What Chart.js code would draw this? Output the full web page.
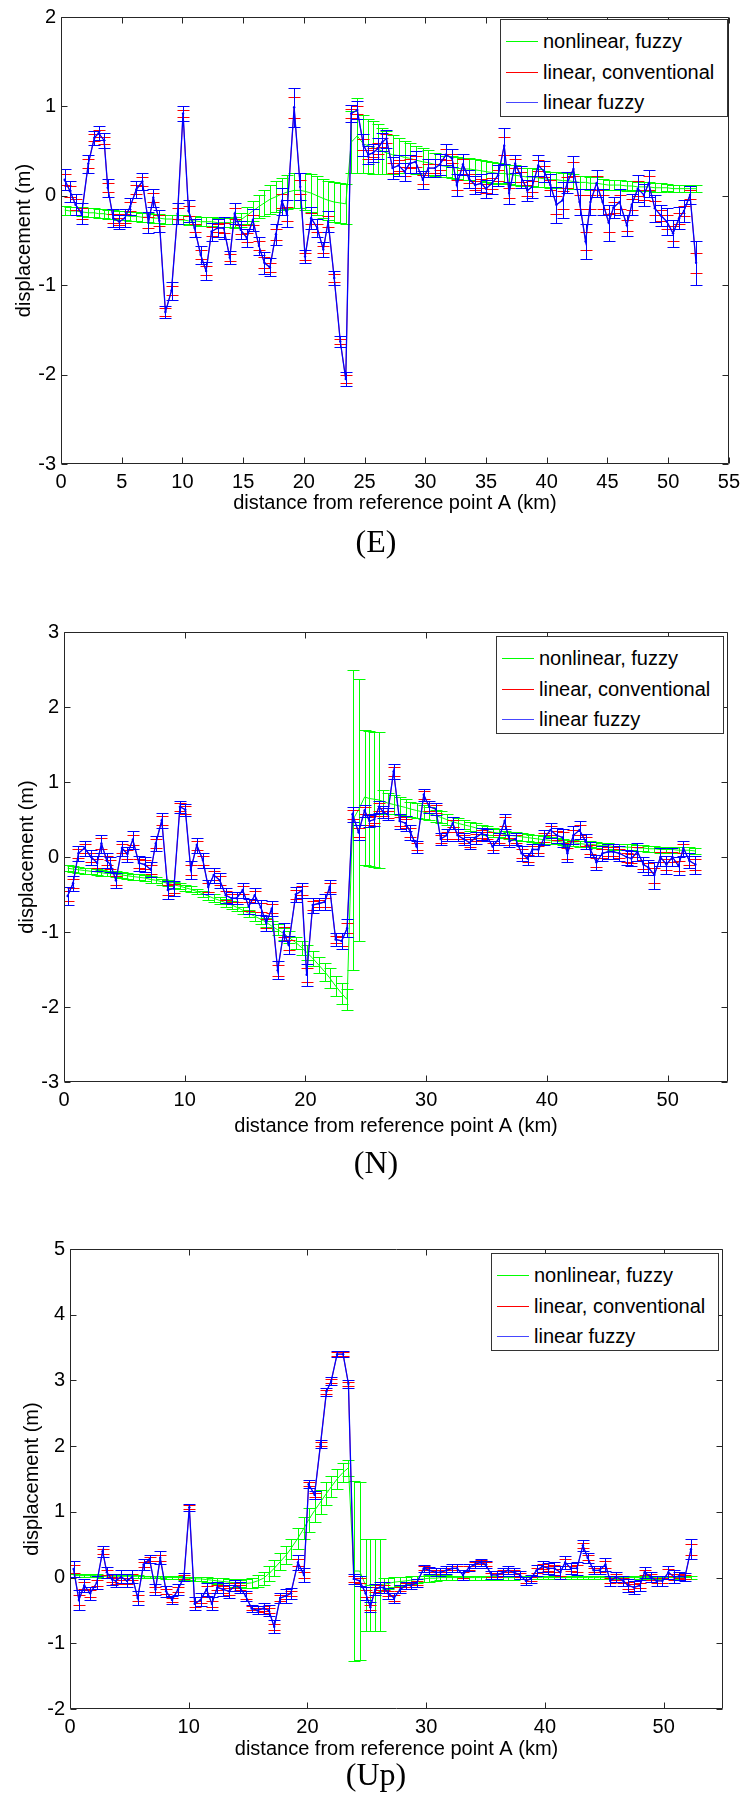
<!DOCTYPE html>
<html>
<head>
<meta charset="utf-8">
<script src="https://cdn.jsdelivr.net/npm/chart.js@4.4.0/dist/chart.umd.min.js"></script>
<style>
  body { margin: 0; background: #fff; }
  #page { position: relative; width: 746px; height: 1794px; overflow: hidden; background: #fff; }
  canvas { position: absolute; left: 0; }
  .legend { position: absolute; width: 226px; height: 96px; border: 1px solid #333; background: #fff;
            font: 20px "Liberation Sans", Arial, sans-serif; color: #000; }
  .legend .row { position: absolute; left: 42px; height: 24px; line-height: 24px; white-space: nowrap; }
  .legend .row i { position: absolute; left: -37px; top: 12px; width: 32px; height: 1px; }
  .caption { position: absolute; width: 200px; left: 276px; height: 40px; line-height: 40px; text-align: center;
             font: 32px "Liberation Serif", "DejaVu Serif", serif; color: #000; }
</style>
</head>
<body>
<div id="page"></div>
<script>
// distance of each station from reference point A (km), shared by all three panels
const distKm = [
  0.3, 0.75, 1.2, 1.7, 2.25, 2.75, 3.1, 3.55, 3.85, 4.3,
  4.8, 5.25, 5.7, 6.2, 6.7, 7.2, 7.6, 8.1, 8.6, 9.1,
  9.6, 10.05, 10.5, 11.0, 11.5, 11.95, 12.4, 12.9, 13.4, 13.9,
  14.3, 14.8, 15.3, 15.8, 16.3, 16.75, 17.2, 17.7, 18.2, 18.6,
  19.2, 19.7, 20.1, 20.6, 21.1, 21.6, 22.0, 22.5, 23.0, 23.45,
  23.9, 24.4, 24.9, 25.3, 25.7, 26.1, 26.45, 26.8, 27.3, 27.8,
  28.3, 28.7, 29.2, 29.8, 30.25, 30.8, 31.2, 31.7, 32.2, 32.6,
  33.1, 33.6, 34.1, 34.6, 35.0, 35.5, 36.0, 36.5, 36.9, 37.4,
  37.9, 38.4, 38.8, 39.3, 39.8, 40.3, 40.8, 41.3, 41.7, 42.2,
  42.7, 43.2, 43.6, 44.1, 44.6, 45.1, 45.5, 46.0, 46.6, 47.0,
  47.5, 48.0, 48.4, 48.9, 49.4, 49.9, 50.4, 50.9, 51.3, 51.8,
  52.3
];

const seriesLabels = ['nonlinear, fuzzy', 'linear, conventional', 'linear fuzzy'];

const xTicksE = [0, 5, 10, 15, 20, 25, 30, 35, 40, 45, 50, 55];
const xTicksNU = [0, 10, 20, 30, 40, 50];
const yTicksE = [-3, -2, -1, 0, 1, 2];
const yTicksN = [-3, -2, -1, 0, 1, 2, 3];
const yTicksU = [-2, -1, 0, 1, 2, 3, 4, 5];

// ---- (E) east displacement ----
const eLinearFuzzy = [
  0.18, 0.05, -0.1, -0.2, 0.36, 0.65, 0.7, 0.62, 0.09, -0.25,
  -0.29, -0.25, -0.12, 0.07, 0.16, -0.3, -0.02, -0.28, -1.3, -1.06,
  -0.2, 0.92, -0.17, -0.36, -0.66, -0.84, -0.4, -0.36, -0.36, -0.69,
  -0.2, -0.38, -0.47, -0.27, -0.56, -0.75, -0.8, -0.43, -0.06, -0.2,
  0.99, 0.1, -0.68, -0.25, -0.36, -0.6, -0.29, -0.92, -1.63, -2.05,
  0.92, 0.96, 0.57, 0.46, 0.48, 0.53, 0.6, 0.64, 0.31, 0.34,
  0.27, 0.36, 0.38, 0.18, 0.31, 0.31, 0.35, 0.46, 0.42, 0.12,
  0.35, 0.19, 0.12, 0.14, 0.08, 0.14, 0.23, 0.56, 0.03, 0.36,
  0.21, 0.06, 0.1, 0.34, 0.27, 0.12, -0.1, -0.05, 0.15, 0.3,
  -0.07, -0.51, -0.07, 0.14, -0.07, -0.3, -0.13, -0.07, -0.33, -0.1,
  0.08, 0.01, 0.14, -0.14, -0.22, -0.29, -0.42, -0.25, -0.17, 0.01,
  -0.75
];
const eLinearFuzzyErr = [
  0.12, 0.12, 0.12, 0.12, 0.1, 0.08, 0.08, 0.08, 0.1, 0.1,
  0.08, 0.1, 0.1, 0.1, 0.1, 0.12, 0.1, 0.12, 0.07, 0.1,
  0.12, 0.08, 0.12, 0.1, 0.1, 0.1, 0.1, 0.1, 0.12, 0.07,
  0.12, 0.1, 0.1, 0.12, 0.1, 0.12, 0.1, 0.12, 0.15, 0.15,
  0.22, 0.15, 0.07, 0.12, 0.1, 0.08, 0.12, 0.08, 0.06, 0.08,
  0.1, 0.1, 0.12, 0.1, 0.1, 0.12, 0.1, 0.1, 0.12, 0.12,
  0.1, 0.1, 0.12, 0.1, 0.1, 0.1, 0.12, 0.12, 0.1, 0.12,
  0.12, 0.1, 0.1, 0.1, 0.1, 0.12, 0.12, 0.2, 0.12, 0.1,
  0.12, 0.12, 0.12, 0.12, 0.12, 0.12, 0.2, 0.2, 0.12, 0.15,
  0.15, 0.2, 0.15, 0.15, 0.15, 0.2, 0.12, 0.15, 0.12, 0.12,
  0.15, 0.12, 0.15, 0.15, 0.12, 0.15, 0.15, 0.12, 0.12, 0.1,
  0.25
];
const eConventional = eLinearFuzzy; // red centres sit right under the blue ones
const eConventionalErr = [
  0.06, 0.06, 0.06, 0.06, 0.05, 0.04, 0.04, 0.04, 0.05, 0.05,
  0.04, 0.05, 0.05, 0.05, 0.05, 0.06, 0.05, 0.06, 0.04, 0.05,
  0.06, 0.04, 0.06, 0.05, 0.05, 0.05, 0.05, 0.05, 0.06, 0.04,
  0.06, 0.05, 0.05, 0.06, 0.05, 0.06, 0.05, 0.06, 0.08, 0.08,
  0.12, 0.08, 0.04, 0.06, 0.05, 0.04, 0.06, 0.04, 0.03, 0.04,
  0.05, 0.05, 0.06, 0.05, 0.05, 0.06, 0.05, 0.05, 0.06, 0.06,
  0.05, 0.05, 0.06, 0.05, 0.05, 0.05, 0.06, 0.06, 0.05, 0.06,
  0.06, 0.05, 0.05, 0.05, 0.05, 0.06, 0.06, 0.1, 0.06, 0.05,
  0.06, 0.06, 0.06, 0.06, 0.06, 0.06, 0.1, 0.1, 0.06, 0.08,
  0.08, 0.1, 0.08, 0.08, 0.08, 0.1, 0.06, 0.08, 0.06, 0.06,
  0.08, 0.06, 0.08, 0.08, 0.06, 0.08, 0.08, 0.06, 0.06, 0.05,
  0.11
];
const eNonlinear = [
  -0.16, -0.17, -0.17, -0.18, -0.19, -0.19, -0.2, -0.2, -0.21, -0.21,
  -0.22, -0.22, -0.23, -0.23, -0.24, -0.24, -0.25, -0.25, -0.26, -0.26,
  -0.27, -0.27, -0.28, -0.28, -0.29, -0.29, -0.29, -0.3, -0.3, -0.3,
  -0.3, -0.27, -0.22, -0.17, -0.12, -0.08, -0.04, -0.01, 0.02, 0.04,
  0.06, 0.06, 0.05, 0.03, 0.0, -0.03, -0.05, -0.07, -0.08, -0.09,
  0.6, 0.67, 0.58, 0.56, 0.54, 0.52, 0.5, 0.48, 0.46, 0.45,
  0.43, 0.42, 0.4, 0.38, 0.37, 0.35, 0.34, 0.33, 0.32, 0.31,
  0.3, 0.3, 0.29, 0.28, 0.27, 0.26, 0.25, 0.25, 0.24, 0.23,
  0.22, 0.21, 0.21, 0.2, 0.19, 0.18, 0.18, 0.17, 0.17, 0.16,
  0.15, 0.15, 0.14, 0.14, 0.13, 0.12, 0.12, 0.12, 0.11, 0.11,
  0.1, 0.1, 0.1, 0.09, 0.09, 0.09, 0.08, 0.08, 0.08, 0.08,
  0.08
];
const eNonlinearErr = [
  0.05, 0.05, 0.05, 0.05, 0.05, 0.05, 0.05, 0.05, 0.05, 0.05,
  0.05, 0.05, 0.05, 0.05, 0.05, 0.05, 0.05, 0.05, 0.05, 0.05,
  0.05, 0.05, 0.05, 0.05, 0.05, 0.05, 0.05, 0.05, 0.05, 0.05,
  0.06, 0.08, 0.09, 0.11, 0.13, 0.15, 0.16, 0.17, 0.18, 0.19,
  0.2, 0.2, 0.21, 0.21, 0.22, 0.22, 0.22, 0.22, 0.22, 0.22,
  0.35, 0.42, 0.32, 0.3, 0.3, 0.28, 0.26, 0.24, 0.22, 0.2,
  0.18, 0.17, 0.16, 0.15, 0.14, 0.13, 0.13, 0.12, 0.12, 0.12,
  0.12, 0.12, 0.12, 0.12, 0.12, 0.12, 0.12, 0.11, 0.11, 0.11,
  0.11, 0.1, 0.1, 0.1, 0.09, 0.09, 0.09, 0.08, 0.08, 0.08,
  0.07, 0.07, 0.07, 0.07, 0.06, 0.06, 0.06, 0.06, 0.06, 0.05,
  0.05, 0.05, 0.05, 0.05, 0.05, 0.04, 0.04, 0.04, 0.04, 0.04,
  0.04
];

// ---- (N) north displacement ----
const nLinearFuzzy = [
  -0.52, -0.35, 0.05, 0.12, 0.0, -0.08, 0.18, -0.05, -0.1, -0.31,
  0.12, 0.04, 0.23, -0.08, -0.1, -0.17, 0.18, 0.49, -0.44, -0.42,
  0.67, 0.63, -0.17, 0.16, -0.04, -0.4, -0.24, -0.31, -0.51, -0.55,
  -0.55, -0.44, -0.66, -0.51, -0.67, -0.88, -0.69, -1.51, -1.0, -1.17,
  -0.5, -0.45, -1.57, -0.64, -0.62, -0.6, -0.4, -1.1, -1.12, -0.95,
  0.57, 0.33, 0.62, 0.48, 0.5, 0.67, 0.6, 0.57, 1.14, 0.48,
  0.45, 0.33, 0.14, 0.83, 0.67, 0.64, 0.24, 0.29, 0.45, 0.29,
  0.24, 0.19, 0.26, 0.31, 0.29, 0.14, 0.24, 0.48, 0.21, 0.24,
  0.05, -0.02, 0.1, 0.1, 0.26, 0.36, 0.29, 0.26, 0.05, 0.29,
  0.36, 0.21, 0.1, -0.07, 0.05, 0.07, 0.07, 0.05, 0.0, -0.02,
  0.07, -0.1, -0.14, -0.24, 0.0, -0.1, 0.0, -0.12, 0.12, -0.05,
  -0.1
];
const nLinearFuzzyErr = [
  0.12, 0.1, 0.1, 0.1, 0.1, 0.1, 0.12, 0.1, 0.1, 0.1,
  0.1, 0.1, 0.12, 0.1, 0.1, 0.1, 0.1, 0.1, 0.12, 0.1,
  0.08, 0.08, 0.12, 0.1, 0.1, 0.1, 0.1, 0.1, 0.1, 0.08,
  0.08, 0.1, 0.1, 0.1, 0.1, 0.1, 0.1, 0.12, 0.12, 0.12,
  0.1, 0.1, 0.15, 0.1, 0.08, 0.1, 0.1, 0.08, 0.1, 0.12,
  0.1, 0.1, 0.08, 0.08, 0.08, 0.08, 0.08, 0.08, 0.1, 0.1,
  0.1, 0.1, 0.08, 0.08, 0.08, 0.08, 0.08, 0.08, 0.08, 0.08,
  0.08, 0.08, 0.08, 0.08, 0.08, 0.08, 0.08, 0.1, 0.08, 0.08,
  0.1, 0.08, 0.08, 0.08, 0.1, 0.1, 0.1, 0.12, 0.12, 0.12,
  0.12, 0.1, 0.1, 0.1, 0.1, 0.1, 0.1, 0.1, 0.1, 0.1,
  0.12, 0.1, 0.1, 0.18, 0.12, 0.12, 0.12, 0.12, 0.1, 0.1,
  0.12
];
const nConventional = nLinearFuzzy;
const nConventionalErr = [
  0.07, 0.06, 0.06, 0.06, 0.06, 0.06, 0.07, 0.06, 0.06, 0.06,
  0.06, 0.06, 0.07, 0.06, 0.06, 0.06, 0.06, 0.06, 0.07, 0.06,
  0.05, 0.05, 0.07, 0.06, 0.06, 0.06, 0.06, 0.06, 0.06, 0.05,
  0.05, 0.06, 0.06, 0.06, 0.06, 0.06, 0.06, 0.07, 0.07, 0.07,
  0.06, 0.06, 0.09, 0.06, 0.05, 0.06, 0.06, 0.05, 0.06, 0.07,
  0.06, 0.06, 0.05, 0.05, 0.05, 0.05, 0.05, 0.05, 0.06, 0.06,
  0.06, 0.06, 0.05, 0.05, 0.05, 0.05, 0.05, 0.05, 0.05, 0.05,
  0.05, 0.05, 0.05, 0.05, 0.05, 0.05, 0.05, 0.06, 0.05, 0.05,
  0.06, 0.05, 0.05, 0.05, 0.06, 0.06, 0.06, 0.07, 0.07, 0.07,
  0.07, 0.06, 0.06, 0.06, 0.06, 0.06, 0.06, 0.06, 0.06, 0.06,
  0.07, 0.06, 0.06, 0.1, 0.07, 0.07, 0.07, 0.07, 0.06, 0.06,
  0.07
];
const nNonlinear = [
  -0.15, -0.16, -0.17, -0.18, -0.19, -0.2, -0.21, -0.22, -0.22, -0.23,
  -0.24, -0.25, -0.26, -0.27, -0.28, -0.3, -0.31, -0.33, -0.35, -0.37,
  -0.39, -0.41, -0.43, -0.46, -0.49, -0.52, -0.55, -0.58, -0.61, -0.64,
  -0.67, -0.71, -0.75, -0.79, -0.83, -0.87, -0.92, -0.97, -1.02, -1.07,
  -1.14, -1.21, -1.27, -1.35, -1.44, -1.53, -1.61, -1.72, -1.82, -1.9,
  0.49, 0.63, 0.8, 0.78, 0.77, 0.76, 0.74, 0.72, 0.7, 0.68,
  0.66, 0.64, 0.62, 0.6, 0.58, 0.55, 0.53, 0.5, 0.47, 0.45,
  0.43, 0.41, 0.39, 0.37, 0.35, 0.33, 0.32, 0.3, 0.29, 0.28,
  0.27, 0.26, 0.25, 0.24, 0.23, 0.22, 0.21, 0.2, 0.19, 0.19,
  0.18, 0.17, 0.17, 0.16, 0.15, 0.15, 0.14, 0.14, 0.13, 0.13,
  0.12, 0.12, 0.11, 0.11, 0.1, 0.1, 0.1, 0.09, 0.09, 0.09,
  0.08
];
const nNonlinearErr = [
  0.04, 0.04, 0.04, 0.04, 0.04, 0.04, 0.04, 0.04, 0.04, 0.04,
  0.04, 0.04, 0.04, 0.04, 0.04, 0.04, 0.04, 0.04, 0.04, 0.04,
  0.04, 0.04, 0.04, 0.04, 0.04, 0.05, 0.05, 0.05, 0.05, 0.05,
  0.05, 0.05, 0.05, 0.06, 0.06, 0.06, 0.07, 0.07, 0.08, 0.08,
  0.08, 0.09, 0.1, 0.1, 0.11, 0.12, 0.13, 0.13, 0.14, 0.14,
  2.0, 1.75, 0.9, 0.9, 0.9, 0.9, 0.16, 0.14, 0.13, 0.12,
  0.11, 0.1, 0.1, 0.09, 0.09, 0.08, 0.08, 0.07, 0.07, 0.07,
  0.06, 0.06, 0.06, 0.06, 0.06, 0.06, 0.05, 0.05, 0.05, 0.05,
  0.05, 0.05, 0.05, 0.05, 0.05, 0.05, 0.04, 0.04, 0.04, 0.04,
  0.04, 0.04, 0.04, 0.04, 0.04, 0.04, 0.04, 0.04, 0.04, 0.04,
  0.04, 0.04, 0.04, 0.04, 0.04, 0.04, 0.04, 0.04, 0.04, 0.04,
  0.04
];

// ---- (Up) vertical displacement ----
const uLinearFuzzy = [
  0.13, -0.34, -0.12, -0.24, -0.08, 0.4, 0.08, -0.03, -0.05, 0.01,
  -0.05, 0.01, -0.31, 0.2, 0.28, -0.18, 0.3, -0.21, -0.34, -0.18,
  0.01, 1.07, -0.4, -0.34, -0.18, -0.4, -0.15, -0.18, -0.21, -0.12,
  -0.15, -0.28, -0.47, -0.5, -0.47, -0.5, -0.75, -0.31, -0.28, -0.24,
  0.23, 0.04, 1.42, 1.26, 2.03, 2.83, 2.99, 3.4, 3.4, 2.95,
  -0.02, -0.05, -0.24, -0.45, -0.18, -0.15, -0.15, -0.24, -0.31, -0.18,
  -0.12, -0.12, -0.08, 0.14, 0.11, 0.08, 0.08, 0.11, 0.14, 0.14,
  0.04, 0.15, 0.2, 0.23, 0.2, 0.04, 0.04, 0.08, 0.11, 0.08,
  0.04, -0.05, -0.02, 0.11, 0.17, 0.14, 0.14, 0.08, 0.23, 0.14,
  0.14, 0.49, 0.3, 0.11, 0.11, 0.2, -0.05, 0.01, -0.05, -0.12,
  -0.15, -0.12, 0.08, 0.01, -0.05, -0.05, 0.08, 0.01, 0.02, 0.01,
  0.43
];
const uLinearFuzzyErr = [
  0.12, 0.15, 0.1, 0.1, 0.1, 0.08, 0.08, 0.08, 0.1, 0.1,
  0.1, 0.1, 0.1, 0.08, 0.06, 0.08, 0.1, 0.08, 0.06, 0.08,
  0.06, 0.05, 0.1, 0.1, 0.1, 0.1, 0.08, 0.1, 0.1, 0.08,
  0.08, 0.08, 0.06, 0.06, 0.08, 0.08, 0.1, 0.08, 0.1, 0.08,
  0.12, 0.1, 0.06, 0.06, 0.06, 0.06, 0.06, 0.05, 0.05, 0.06,
  0.08, 0.08, 0.1, 0.08, 0.08, 0.08, 0.08, 0.08, 0.08, 0.06,
  0.06, 0.06, 0.06, 0.05, 0.05, 0.06, 0.06, 0.06, 0.06, 0.06,
  0.08, 0.05, 0.05, 0.05, 0.05, 0.06, 0.06, 0.06, 0.06, 0.06,
  0.06, 0.06, 0.06, 0.08, 0.08, 0.08, 0.1, 0.1, 0.1, 0.08,
  0.1, 0.08, 0.08, 0.06, 0.06, 0.1, 0.08, 0.08, 0.08, 0.1,
  0.1, 0.08, 0.08, 0.08, 0.08, 0.08, 0.1, 0.1, 0.06, 0.06,
  0.15
];
const uConventional = uLinearFuzzy;
const uConventionalErr = [
  0.06, 0.08, 0.05, 0.05, 0.05, 0.04, 0.04, 0.04, 0.05, 0.05,
  0.05, 0.05, 0.05, 0.04, 0.03, 0.04, 0.05, 0.04, 0.03, 0.04,
  0.03, 0.03, 0.05, 0.05, 0.05, 0.05, 0.04, 0.05, 0.05, 0.04,
  0.04, 0.04, 0.03, 0.03, 0.04, 0.04, 0.05, 0.04, 0.05, 0.04,
  0.06, 0.05, 0.03, 0.03, 0.03, 0.03, 0.03, 0.03, 0.03, 0.03,
  0.04, 0.04, 0.05, 0.04, 0.04, 0.04, 0.04, 0.04, 0.04, 0.03,
  0.03, 0.03, 0.03, 0.03, 0.03, 0.03, 0.03, 0.03, 0.03, 0.03,
  0.04, 0.03, 0.03, 0.03, 0.03, 0.03, 0.03, 0.03, 0.03, 0.03,
  0.03, 0.03, 0.03, 0.04, 0.04, 0.04, 0.05, 0.05, 0.05, 0.04,
  0.05, 0.04, 0.04, 0.03, 0.03, 0.05, 0.04, 0.04, 0.04, 0.05,
  0.05, 0.04, 0.04, 0.04, 0.04, 0.04, 0.05, 0.05, 0.03, 0.03,
  0.08
];
const uNonlinear = [
  0.03, 0.03, 0.03, 0.03, 0.03, 0.02, 0.02, 0.02, 0.02, 0.02,
  0.02, 0.02, 0.02, 0.01, 0.01, 0.01, 0.01, 0.0, 0.0, 0.0,
  -0.01, -0.01, -0.02, -0.02, -0.03, -0.04, -0.05, -0.06, -0.07, -0.08,
  -0.09, -0.09, -0.08, -0.05, -0.01, 0.06, 0.14, 0.24, 0.34, 0.44,
  0.6, 0.75, 0.88, 1.02, 1.15, 1.28, 1.38, 1.5, 1.6, 1.67,
  0.1, 0.1, -0.12, -0.12, -0.12, -0.11, -0.1, -0.09, -0.07, -0.06,
  -0.05, -0.04, -0.03, -0.02, -0.01, -0.01, 0.0, 0.0, 0.0, 0.0,
  0.0, 0.0, 0.0, 0.0, 0.0, 0.0, 0.0, 0.0, 0.0, 0.0,
  0.0, 0.0, 0.0, 0.0, 0.0, 0.0, 0.0, 0.0, 0.0, 0.0,
  0.0, 0.0, 0.0, 0.0, 0.0, 0.0, 0.0, 0.0, 0.0, 0.0,
  0.0, 0.0, 0.0, 0.0, 0.0, 0.0, 0.0, 0.0, 0.0, 0.0,
  0.0
];
const uNonlinearErr = [
  0.02, 0.02, 0.02, 0.02, 0.02, 0.02, 0.02, 0.02, 0.02, 0.02,
  0.02, 0.02, 0.02, 0.02, 0.02, 0.02, 0.02, 0.02, 0.02, 0.02,
  0.02, 0.02, 0.03, 0.03, 0.04, 0.04, 0.05, 0.05, 0.05, 0.06,
  0.06, 0.07, 0.08, 0.09, 0.1, 0.11, 0.12, 0.13, 0.14, 0.15,
  0.16, 0.17, 0.18, 0.18, 0.18, 0.17, 0.16, 0.15, 0.14, 0.12,
  1.37, 1.35, 0.7, 0.7, 0.7, 0.7, 0.1, 0.09, 0.08, 0.07,
  0.06, 0.06, 0.05, 0.05, 0.05, 0.04, 0.04, 0.04, 0.03, 0.03,
  0.03, 0.03, 0.03, 0.03, 0.03, 0.03, 0.03, 0.03, 0.03, 0.03,
  0.02, 0.02, 0.02, 0.02, 0.02, 0.02, 0.02, 0.02, 0.02, 0.02,
  0.02, 0.02, 0.02, 0.02, 0.02, 0.02, 0.02, 0.02, 0.02, 0.02,
  0.02, 0.02, 0.02, 0.02, 0.02, 0.02, 0.02, 0.02, 0.02, 0.02,
  0.02
];

const GREEN = 'rgb(0,255,0)';
const RED = 'rgb(255,0,0)';
const BLUE = 'rgb(0,0,255)';
const FONT = '"Liberation Sans", Arial, Helvetica, sans-serif';

const panels = [
  {
    caption: '(E)', top: 0, height: 530,
    area: { left: 61, right: 732, top: 14.5, bottom: 464 },
    yMin: -3, yMax: 2, xTicks: xTicksE, yTicks: yTicksE,
    yTitlePad: 12, xTitlePad: 15, captionY: 543,
    legend: { left: 500, top: 19 },
    green: eNonlinear, greenErr: eNonlinearErr,
    red: eConventional, redErr: eConventionalErr,
    blue: eLinearFuzzy, blueErr: eLinearFuzzyErr
  },
  {
    caption: '(N)', top: 530, height: 650,
    area: { left: 64, right: 728, top: 102, bottom: 552 },
    yMin: -3, yMax: 3, xTicks: xTicksNU, yTicks: yTicksN,
    yTitlePad: 15, xTitlePad: 42, captionY: 1164,
    legend: { left: 496, top: 636 },
    green: nNonlinear, greenErr: nNonlinearErr,
    red: nConventional, redErr: nConventionalErr,
    blue: nLinearFuzzy, blueErr: nLinearFuzzyErr
  },
  {
    caption: '(Up)', top: 1180, height: 614,
    area: { left: 70, right: 723, top: 69, bottom: 529 },
    yMin: -2, yMax: 5, xTicks: xTicksNU, yTicks: yTicksU,
    yTitlePad: 20, xTitlePad: 33, captionY: 1776,
    legend: { left: 491, top: 1253 },
    green: uNonlinear, greenErr: uNonlinearErr,
    red: uConventional, redErr: uConventionalErr,
    blue: uLinearFuzzy, blueErr: uLinearFuzzyErr
  }
];

// vertical error bars with caps, drawn right after their own line
const errorBars = {
  id: 'errorBars',
  afterDatasetDraw(chart, args) {
    const ds = chart.data.datasets[args.index];
    if (!ds.errors) return;
    const { ctx, chartArea: a, scales: { x, y } } = chart;
    ctx.save();
    ctx.beginPath();
    ctx.rect(a.left, a.top, a.right - a.left, a.bottom - a.top);
    ctx.clip();
    ctx.strokeStyle = ds.borderColor;
    ctx.lineWidth = 1;
    ctx.beginPath();
    ds.data.forEach((pt, i) => {
      const e = ds.errors[i];
      const px = Math.round(x.getPixelForValue(pt.x)) + 0.5;
      const hi = Math.round(y.getPixelForValue(pt.y + e)) + 0.5;
      const lo = Math.round(y.getPixelForValue(pt.y - e)) + 0.5;
      ctx.moveTo(px, hi); ctx.lineTo(px, lo);
      ctx.moveTo(px - ds.capHalf, hi); ctx.lineTo(px + ds.capHalf, hi);
      ctx.moveTo(px - ds.capHalf, lo); ctx.lineTo(px + ds.capHalf, lo);
    });
    ctx.stroke();
    ctx.restore();
  }
};

// matlab style box with inward ticks
const axesBox = {
  id: 'axesBox',
  afterDraw(chart) {
    const { ctx, chartArea: a, scales: { x, y } } = chart;
    const L = Math.round(a.left) + 0.5, R = Math.round(a.right) - 0.5;
    const T = Math.round(a.top) + 0.5, B = Math.round(a.bottom) - 0.5;
    const len = 6;
    ctx.save();
    ctx.strokeStyle = '#262626';
    ctx.lineWidth = 1;
    ctx.beginPath();
    ctx.rect(L, T, R - L, B - T);
    x.ticks.forEach(t => {
      const px = Math.round(x.getPixelForValue(t.value)) + 0.5;
      ctx.moveTo(px, B); ctx.lineTo(px, B - len);
      ctx.moveTo(px, T); ctx.lineTo(px, T + len);
    });
    y.ticks.forEach(t => {
      const py = Math.round(y.getPixelForValue(t.value)) + 0.5;
      ctx.moveTo(L, py); ctx.lineTo(L + len, py);
      ctx.moveTo(R, py); ctx.lineTo(R - len, py);
    });
    ctx.stroke();
    ctx.restore();
  }
};

function toPoints(vals) {
  return distKm.map((d, i) => ({ x: d, y: vals[i] }));
}

function drawPanel(p) {
  const page = document.getElementById('page');
  const canvas = document.createElement('canvas');
  canvas.width = 746;
  canvas.height = p.height;
  canvas.style.top = p.top + 'px';
  canvas.style.width = '746px';
  canvas.style.height = p.height + 'px';
  page.appendChild(canvas);

  new Chart(canvas.getContext('2d'), {
    type: 'line',
    data: {
      datasets: [
        { label: seriesLabels[0], data: toPoints(p.green), errors: p.greenErr, capHalf: 6,
          borderColor: GREEN, borderWidth: 1, pointRadius: 0, order: 3 },
        { label: seriesLabels[1], data: toPoints(p.red), errors: p.redErr, capHalf: 6,
          borderColor: RED, borderWidth: 0.8, pointRadius: 0, order: 2 },
        { label: seriesLabels[2], data: toPoints(p.blue), errors: p.blueErr, capHalf: 6,
          borderColor: BLUE, borderWidth: 1.3, pointRadius: 1.2, pointBorderWidth: 0,
          pointBackgroundColor: BLUE, order: 1 }
      ]
    },
    options: {
      responsive: false,
      animation: false,
      devicePixelRatio: 1,
      layout: { padding: { top: p.area.top, right: 746 - p.area.right, bottom: 0, left: 0 } },
      elements: { line: { tension: 0, fill: false } },
      plugins: { legend: { display: false }, tooltip: { enabled: false } },
      scales: {
        x: {
          type: 'linear', min: 0, max: 55,
          grid: { display: false, drawTicks: false },
          border: { display: false },
          afterBuildTicks: s => { s.ticks = p.xTicks.map(v => ({ value: v })); },
          afterFit: s => { s.height = p.height - p.area.bottom; },
          ticks: { color: '#000', padding: 6, maxRotation: 0, autoSkip: false,
                   font: { family: FONT, size: 20 }, callback: v => String(v) },
          title: { display: true, text: 'distance from reference point A (km)', color: '#000',
                   font: { family: FONT, size: 20 }, padding: { top: 0, bottom: p.xTitlePad } }
        },
        y: {
          type: 'linear', min: p.yMin, max: p.yMax,
          grid: { display: false, drawTicks: false },
          border: { display: false },
          afterBuildTicks: s => { s.ticks = p.yTicks.map(v => ({ value: v })); },
          afterFit: s => { s.width = p.area.left; },
          ticks: { color: '#000', padding: 5, autoSkip: false,
                   font: { family: FONT, size: 20 }, callback: v => String(v) },
          title: { display: true, text: 'displacement (m)', color: '#000',
                   font: { family: FONT, size: 20 }, padding: { top: p.yTitlePad, bottom: 0 } }
        }
      }
    },
    plugins: [errorBars, axesBox]
  });

  // legend box inside the axes, top right
  const lg = document.createElement('div');
  lg.className = 'legend';
  lg.style.left = p.legend.left + 'px';
  lg.style.top = p.legend.top + 'px';
  const colors = [GREEN, RED, 'rgb(70,70,255)'];
  const rowCentres = [21, 52, 82];
  seriesLabels.forEach((txt, i) => {
    const row = document.createElement('div');
    row.className = 'row';
    row.style.top = (rowCentres[i] - 12) + 'px';
    const sample = document.createElement('i');
    sample.style.background = colors[i];
    row.appendChild(sample);
    row.appendChild(document.createTextNode(txt));
    lg.appendChild(row);
  });
  page.appendChild(lg);

  const cap = document.createElement('div');
  cap.className = 'caption';
  cap.style.top = (p.captionY - 20) + 'px';
  cap.textContent = p.caption;
  page.appendChild(cap);
}

panels.forEach(drawPanel);
</script>
</body>
</html>
